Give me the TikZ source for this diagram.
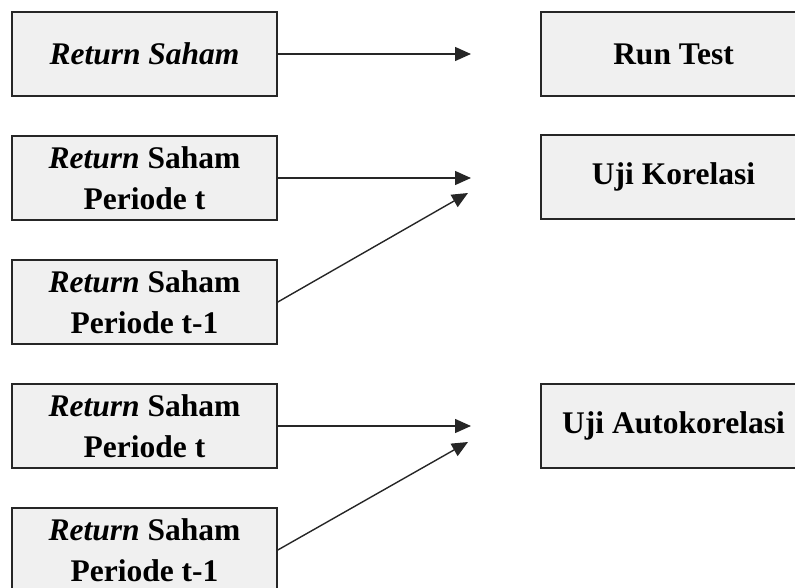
\documentclass[tikz,border=0pt]{standalone}
\usepackage{fontspec}
\setmainfont{Liberation Serif}
\usetikzlibrary{arrows.meta}
\definecolor{boxfill}{HTML}{F0F0F0}
\definecolor{boxline}{HTML}{262626}
\tikzset{
  itembox/.style={draw=boxline, line width=1.6pt, fill=boxfill, minimum width=265pt, minimum height=84pt,
    inner sep=0pt, align=center, font=\fontsize{31.5}{41}\selectfont\bfseries},
  conn/.style={line width=1.4pt, draw=black!85, -{Triangle[length=16pt,width=14pt]}}
}
\begin{document}
\begin{tikzpicture}[x=1pt,y=-1pt]
\useasboundingbox (0,0) rectangle (795,588);
\clip (0,0) rectangle (795,588);
% left boxes
\node[itembox] (l1) at (144.5,54) {\textit{Return Saham}};
\node[itembox] (l2) at (144.5,178) {\textit{Return} Saham\\Periode t};
\node[itembox] (l3) at (144.5,302) {\textit{Return} Saham\\Periode t-1};
\node[itembox] (l4) at (144.5,426) {\textit{Return} Saham\\Periode t};
\node[itembox] (l5) at (144.5,550) {\textit{Return} Saham\\Periode t-1};
% right boxes
\node[itembox] (r1) at (673.5,54) {Run Test};
\node[itembox] (r2) at (673.5,177) {Uji Korelasi};
\node[itembox] (r3) at (673.5,426) {Uji Autokorelasi};
% arrow tips
\coordinate (t1) at (471,54);
\coordinate (t2) at (471,178);
\coordinate (t3) at (468,193);
\coordinate (t4) at (471,426);
\coordinate (t5) at (468,442);
\draw[conn] (l1.east) -- (t1);
\draw[conn] (l2.east) -- (t2);
\draw[conn] (l3.east) -- (t3);
\draw[conn] (l4.east) -- (t4);
\draw[conn] (l5.east) -- (t5);
\end{tikzpicture}
\end{document}
